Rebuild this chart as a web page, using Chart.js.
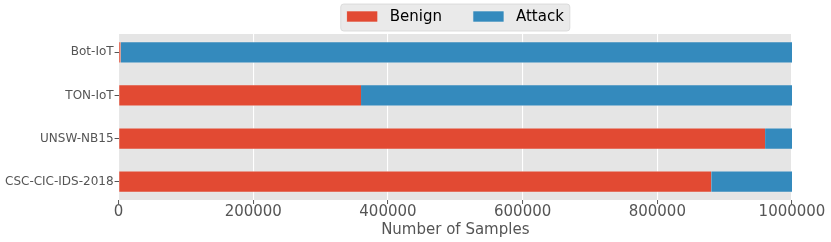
<!DOCTYPE html>
<html>
<head>
<meta charset="utf-8">
<title>Benign vs Attack samples per dataset</title>
<script src="https://cdn.jsdelivr.net/npm/chart.js"></script>
<style>
  html, body { margin: 0; padding: 0; background: #fff; }
  #wrap { width: 831px; height: 242px; }
</style>
</head>
<body>
<div id="wrap"><canvas id="chart" width="831" height="242"></canvas></div>
<script>
const datasetNames = ["Bot-IoT", "TON-IoT", "UNSW-NB15", "CSC-CIC-IDS-2018"];
const benign = [3000, 360000, 960000, 880000];
const attack = [997000, 640000, 40000, 120000];
const xTicks = [0, 200000, 400000, 600000, 800000, 1000000];
const seriesNames = ["Benign", "Attack"];
const seriesColors = ["#E24A33", "#348ABD"];

const FONT = "'DejaVu Sans', sans-serif";

// grey panel behind the bars, like the ggplot style
const plotBackground = {
  id: "plotBackground",
  beforeDraw(chart) {
    const { ctx, chartArea: a } = chart;
    ctx.save();
    ctx.fillStyle = "#E5E5E5";
    ctx.fillRect(a.left, a.top, a.right - a.left, a.bottom - a.top);
    ctx.restore();
  },
};

// legend centred over the plot area, in a rounded frame
const topLegend = {
  id: "topLegend",
  afterDraw(chart) {
    const { ctx, chartArea: a } = chart;
    const items = chart.data.datasets;
    const patchW = 31, patchH = 11, gap = 12, spacing = 31, pad = 6;

    ctx.save();
    ctx.font = "15px " + FONT;
    let widths = items.map((d) => ctx.measureText(d.label).width);
    let total = pad * 2 + spacing * (items.length - 1);
    widths.forEach((w) => (total += patchW + gap + w));

    let x = (a.left + a.right) / 2 - total / 2;
    let top = 4, h = 27, cy = 17;

    ctx.beginPath();
    ctx.roundRect(x, top, total, h, 3);
    ctx.fillStyle = "#EAEAEA";
    ctx.fill();
    ctx.strokeStyle = "#D6D6D6";
    ctx.lineWidth = 0.8;
    ctx.stroke();

    x += pad;
    items.forEach((d, i) => {
      ctx.fillStyle = d.backgroundColor;
      ctx.fillRect(x, 11, patchW, patchH);
      ctx.strokeStyle = "#EEEEEE";
      ctx.lineWidth = 0.6;
      ctx.strokeRect(x, 11, patchW, patchH);
      x += patchW + gap;
      ctx.fillStyle = "#000000";
      ctx.textBaseline = "middle";
      ctx.textAlign = "left";
      ctx.fillText(d.label, x, cy);
      x += widths[i] + spacing;
    });
    ctx.restore();
  },
};

new Chart(document.getElementById("chart"), {
  type: "bar",
  data: {
    datasets: seriesNames.map((name, k) => ({
      label: name,
      data: (k === 0 ? benign : attack).map((v, i) => ({ x: v, y: i })),
      backgroundColor: seriesColors[k],
      borderColor: "#EEEEEE",
      borderWidth: { top: 0.6, bottom: 0.6, left: 0, right: 0 },
      borderSkipped: false,
      barPercentage: 0.5,
      categoryPercentage: 1,
    })),
  },
  options: {
    indexAxis: "y",
    responsive: false,
    animation: false,
    layout: { padding: { top: 34, left: 4, right: 39, bottom: 0 } },
    plugins: {
      legend: { display: false },
      tooltip: { enabled: false },
    },
    scales: {
      x: {
        type: "linear",
        stacked: true,
        min: 0,
        max: 1000000,
        afterBuildTicks: (axis) => {
          axis.ticks = xTicks.map((v) => ({ value: v }));
        },
        grid: {
          color: "#FFFFFF",
          lineWidth: 1.1,
          tickLength: 4,
          tickColor: "#555555",
          tickWidth: 1,
        },
        border: { display: false },
        ticks: {
          color: "#555555",
          padding: 1,
          maxRotation: 0,
          autoSkip: false,
          font: { family: FONT, size: 15, lineHeight: 1 },
          callback: (v) => String(v),
        },
        title: {
          display: true,
          text: "Number of Samples",
          color: "#555555",
          font: { family: FONT, size: 15 },
          padding: { top: 0, bottom: 3 },
        },
      },
      y: {
        type: "linear",
        stacked: true,
        reverse: true,
        offset: false,
        min: -0.425,
        max: 3.425,
        afterBuildTicks: (axis) => {
          axis.ticks = datasetNames.map((_, i) => ({ value: i }));
        },
        grid: {
          offset: false,
          drawOnChartArea: false,
          tickLength: 4,
          tickColor: "#555555",
          tickWidth: 1,
        },
        border: { display: false },
        ticks: {
          color: "#555555",
          padding: 1,
          autoSkip: false,
          font: { family: FONT, size: 12 },
          callback: (v) => datasetNames[v],
        },
      },
    },
  },
  plugins: [plotBackground, topLegend],
});
</script>
</body>
</html>
